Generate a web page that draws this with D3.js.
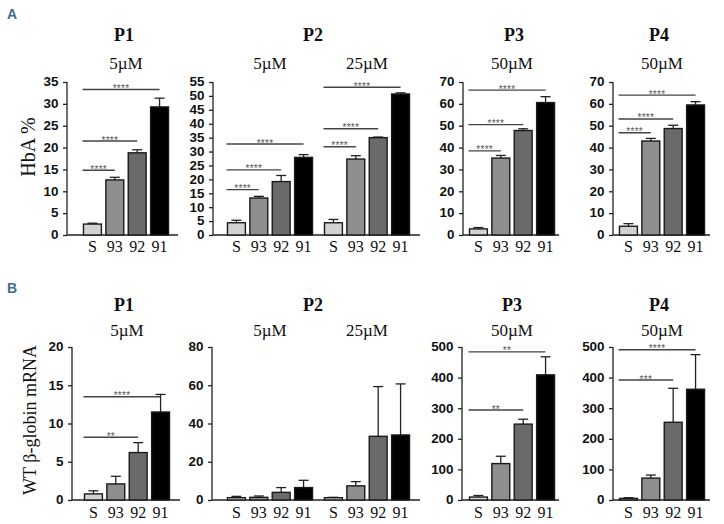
<!DOCTYPE html>
<html><head><meta charset="utf-8">
<script src="https://cdn.jsdelivr.net/npm/d3@7"></script>
<style>body{margin:0;background:#fff}svg{display:block}</style>
</head><body>
<script>
// ---------- DATA ----------
const categories = ["S", "93", "92", "91"];
const tickP1A = [0,5,10,15,20,25,30,35];
const tickP2A = [0,5,10,15,20,25,30,35,40,45,50,55];
const tickP34A = [0,10,20,30,40,50,60,70];
const tickP1B = [0,5,10,15,20];
const tickP2B = [0,20,40,60,80];
const tickP34B = [0,100,200,300,400,500];

const hbaP1 = [2.5, 12.6, 18.8, 29.3];      const hbaP1Err = [0.2, 0.6, 0.7, 2.0];
const hbaP2_5 = [4.4, 13.3, 19.2, 27.9];    const hbaP2_5Err = [0.9, 0.6, 2.2, 1.0];
const hbaP2_25 = [4.4, 27.3, 35.0, 50.7];   const hbaP2_25Err = [1.2, 1.2, 0.2, 0.4];
const hbaP3 = [2.8, 35.2, 47.8, 60.6];      const hbaP3Err = [0.6, 1.2, 0.8, 2.7];
const hbaP4 = [4.0, 43.0, 48.7, 59.5];      const hbaP4Err = [1.2, 1.2, 1.5, 1.5];

const mrnaP1 = [0.8, 2.1, 6.2, 11.5];       const mrnaP1Err = [0.4, 1.0, 1.3, 2.3];
const mrnaP2_5 = [1.2, 1.4, 4.0, 6.5];      const mrnaP2_5Err = [0.7, 0.7, 2.5, 3.8];
const mrnaP2_25 = [1.2, 7.4, 33.3, 34.0];   const mrnaP2_25Err = [0.2, 2.2, 26.0, 26.7];
const mrnaP3 = [9.7, 119, 248, 409];        const mrnaP3Err = [5, 24, 16, 59];
const mrnaP4 = [5.3, 71.6, 254, 362];       const mrnaP4Err = [2.2, 10, 111, 113];

// significance: [target category index, level on y axis, label]
const sigHbaP1 = [[1, 14.8, "****"], [2, 21.5, "****"], [3, 33.3, "****"]];
const sigHbaP2_5 = [[1, 16.3, "****"], [2, 23.4, "****"], [3, 32.7, "****"]];
const sigHbaP2_25 = [[1, 31.7, "****"], [2, 38.2, "****"], [3, 53.1, "****"]];
const sigHbaP3 = [[1, 38.5, "****"], [2, 50.5, "****"], [3, 66.3, "****"]];
const sigHbaP4 = [[1, 46.8, "****"], [2, 53.1, "****"], [3, 64.0, "****"]];
const sigMrnaP1 = [[2, 8.2, "**"], [3, 13.5, "****"]];
const sigMrnaP2_5 = [];
const sigMrnaP2_25 = [];
const sigMrnaP3 = [[2, 294, "**"], [3, 484, "**"]];
const sigMrnaP4 = [[2, 392, "***"], [3, 491, "****"]];

const titles = ["P1", "P2", "P3", "P4"];

// ---------- STYLE / LAYOUT ----------
const fills = ["#d2d2d2", "#8e8e8e", "#6a6a6a", "#000000"];
const W = 724, H = 524;
const svg = d3.select("body").append("svg").attr("width", W).attr("height", H);

const rows = [
  {y0: 235, y1: 82, titleY: 41, doseY: 69, labY: 252},
  {y0: 500, y1: 347, titleY: 311, doseY: 336, labY: 518}
];

const panels = [
  {row: 0, title: titles[0], axisX: 67, endX: 178, titleX: 124, max: 35, ticks: tickP1A,
   groups: [{start: 79, vals: hbaP1, err: hbaP1Err, sig: sigHbaP1, dose: "5µM"}]},
  {row: 0, title: titles[1], axisX: 213, endX: 420, titleX: 313, max: 55, ticks: tickP2A,
   groups: [{start: 223, vals: hbaP2_5, err: hbaP2_5Err, sig: sigHbaP2_5, dose: "5µM"},
            {start: 320, vals: hbaP2_25, err: hbaP2_25Err, sig: sigHbaP2_25, dose: "25µM"}]},
  {row: 0, title: titles[2], axisX: 463, endX: 559, titleX: 514, max: 70, ticks: tickP34A,
   groups: [{start: 465, vals: hbaP3, err: hbaP3Err, sig: sigHbaP3, dose: "50µM"}]},
  {row: 0, title: titles[3], axisX: 613, endX: 710, titleX: 659, max: 70, ticks: tickP34A,
   groups: [{start: 615, vals: hbaP4, err: hbaP4Err, sig: sigHbaP4, dose: "50µM"}]},
  {row: 1, title: titles[0], axisX: 72, endX: 180, titleX: 124, max: 20, ticks: tickP1B,
   groups: [{start: 80, vals: mrnaP1, err: mrnaP1Err, sig: sigMrnaP1, dose: "5µM"}]},
  {row: 1, title: titles[1], axisX: 212, endX: 420, titleX: 313, max: 80, ticks: tickP2B,
   groups: [{start: 223, vals: mrnaP2_5, err: mrnaP2_5Err, sig: sigMrnaP2_5, dose: "5µM"},
            {start: 320, vals: mrnaP2_25, err: mrnaP2_25Err, sig: sigMrnaP2_25, dose: "25µM"}]},
  {row: 1, title: titles[2], axisX: 462, endX: 559, titleX: 512, max: 500, ticks: tickP34B,
   groups: [{start: 465, vals: mrnaP3, err: mrnaP3Err, sig: sigMrnaP3, dose: "50µM"}]},
  {row: 1, title: titles[3], axisX: 613, endX: 710, titleX: 659, max: 500, ticks: tickP34B,
   groups: [{start: 615, vals: mrnaP4, err: mrnaP4Err, sig: sigMrnaP4, dose: "50µM"}]}
];

const serif = "'Liberation Serif','Times New Roman',serif";
const sans = "'Liberation Sans',Arial,sans-serif";

panels.forEach(p => {
  const r = rows[p.row];
  const y = d3.scaleLinear().domain([0, p.max]).range([r.y0, r.y1]);
  const g = svg.append("g");

  const ax = g.append("g").attr("transform", `translate(${p.axisX},0)`)
    .call(d3.axisLeft(y).tickValues(p.ticks).tickSize(4).tickPadding(2).tickFormat(d3.format("d")));
  ax.select(".domain").attr("stroke", "#222").attr("stroke-width", 1.3).attr("d", `M-0,${r.y0}V${r.y1}`);
  ax.selectAll(".tick line").attr("stroke", "#222").attr("stroke-width", 1.3);
  ax.selectAll(".tick text").attr("font-family", sans).attr("font-weight", "bold")
    .attr("font-size", 12).attr("fill", "#111").attr("transform", "scale(1.12,1)").attr("x", -6.2/1.12 - 2);

  g.append("line").attr("x1", p.axisX).attr("x2", p.endX).attr("y1", r.y0).attr("y2", r.y0)
    .attr("stroke", "#222").attr("stroke-width", 1.3);

  g.append("text").attr("x", p.titleX).attr("y", r.titleY).attr("text-anchor", "middle")
    .attr("font-family", serif).attr("font-weight", "bold").attr("font-size", 18).attr("fill", "#111").text(p.title);

  p.groups.forEach(gr => {
    const x = d3.scaleBand().domain(categories).range([gr.start, gr.start + 94]).padding(0.2);
    const bw = x.bandwidth();
    const cx = (x("S") + x("91") + bw) / 2;
    g.append("text").attr("x", cx).attr("y", r.doseY).attr("text-anchor", "middle")
      .attr("font-family", serif).attr("font-size", 17).attr("fill", "#111").text(gr.dose);

    const data = categories.map((c, i) => ({c, v: gr.vals[i], e: gr.err[i], i}));
    data.forEach(d => {
      const xc = x(d.c) + bw / 2;
      g.append("line").attr("x1", xc).attr("x2", xc).attr("y1", y(d.v)).attr("y2", y(d.v + d.e))
        .attr("stroke", "#222").attr("stroke-width", 1.3);
      g.append("line").attr("x1", xc - 5).attr("x2", xc + 5).attr("y1", y(d.v + d.e)).attr("y2", y(d.v + d.e))
        .attr("stroke", "#222").attr("stroke-width", 1.3);
    });
    g.selectAll(null).data(data).enter().append("rect")
      .attr("x", d => x(d.c)).attr("width", bw)
      .attr("y", d => y(d.v)).attr("height", d => r.y0 - y(d.v))
      .attr("fill", d => fills[d.i]).attr("stroke", "#1a1a1a").attr("stroke-width", 1.4);
    g.selectAll(null).data(categories).enter().append("text")
      .attr("x", d => x(d) + bw / 2).attr("y", r.labY).attr("text-anchor", "middle")
      .attr("font-family", serif).attr("font-size", 16).attr("fill", "#111").text(d => d);
    gr.sig.forEach(s => {
      const x1 = x("S") - 1, x2 = x(categories[s[0]]) + bw / 2;
      const yy = y(s[1]);
      g.append("line").attr("x1", x1).attr("x2", x2).attr("y1", yy).attr("y2", yy)
        .attr("stroke", "#444").attr("stroke-width", 1.4);
      g.append("text").attr("x", (x1 + x2) / 2).attr("y", yy + 2.5).attr("text-anchor", "middle")
        .attr("font-family", sans).attr("font-size", 10).attr("fill", "#555")
        .attr("letter-spacing", 0.3).text(s[2]);
    });
  });
});

svg.append("text").attr("transform", "translate(35,147) rotate(-90)").attr("text-anchor", "middle")
  .attr("font-family", serif).attr("font-size", 20).attr("fill", "#111").text("HbA %");
svg.append("text").attr("transform", "translate(36,420) rotate(-90)").attr("text-anchor", "middle")
  .attr("font-family", serif).attr("font-size", 18).attr("fill", "#111").text("WT β-globin mRNA");

svg.append("text").attr("x", 7).attr("y", 19).attr("font-family", sans).attr("font-weight", "bold")
  .attr("font-size", 14).attr("fill", "#3f6b91").text("A");
svg.append("text").attr("x", 7).attr("y", 293).attr("font-family", sans).attr("font-weight", "bold")
  .attr("font-size", 14).attr("fill", "#3f6b91").text("B");
</script>
</body></html>
